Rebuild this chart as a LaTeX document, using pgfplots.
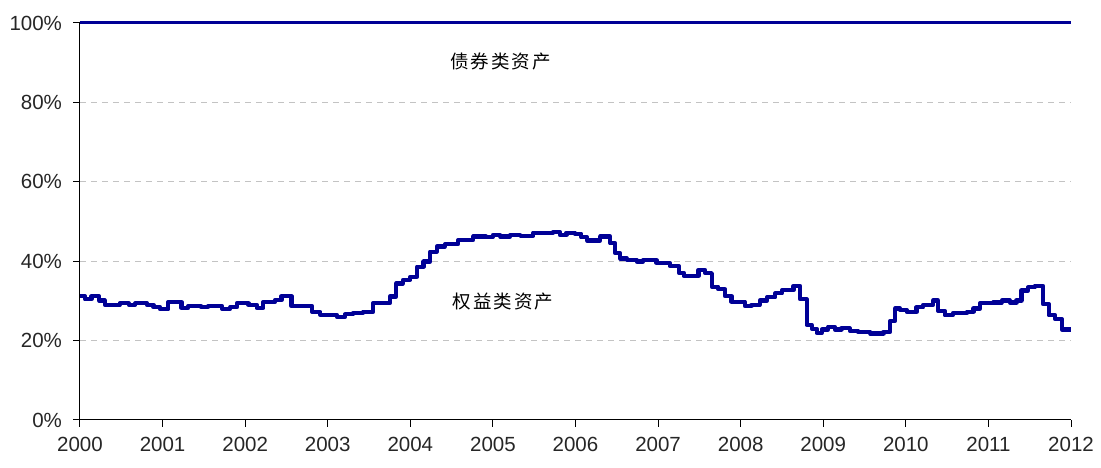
\documentclass[border=0pt]{standalone}
\usepackage{fontspec}
\setmainfont{Liberation Sans}
\newfontfamily\cjk{Noto Sans CJK SC}
\usepackage{pgfplots}
\pgfplotsset{compat=1.18}
\definecolor{navy}{RGB}{0,0,150}
\definecolor{gridgray}{RGB}{195,195,195}
\begin{document}
\fontsize{20.5}{24}\selectfont
\begin{tikzpicture}
\useasboundingbox (-80pt,-48pt) rectangle (1021pt,420pt);
\begin{axis}[
  at={(0pt,0pt)}, anchor=south west,
  scale only axis, width=991pt, height=397pt,
  xmin=2000, xmax=2012, ymin=0, ymax=100,
  axis x line=bottom, axis y line=left,
  axis line style={-, black, line width=1pt},
  xtick={2000,2001,...,2012}, ytick={0,20,...,100},
  /pgf/number format/assume math mode=true,
  x tick label style={/pgf/number format/1000 sep={}, yshift=-3pt},
  y tick label style={xshift=-4pt},
  yticklabel={\pgfmathprintnumber{\tick}\%},
  tick align=outside, major tick length=7pt,
  tick style={black, line width=1pt},
  ymajorgrids, grid style={gridgray, dash pattern=on 6pt off 5pt, line width=1pt},
  tick label style={font=\fontsize{20.5}{24}\selectfont, text=black!85},
  clip=false,
]
\addplot[navy, line width=3pt] coordinates {(2000,100) (2012,100)};
\addplot[navy, line width=4.2pt, const plot, line join=round] coordinates {
(2000.00,31.2) (2000.06,30.4) (2000.14,31.2) (2000.23,30.1) (2000.30,29.0)
(2000.48,29.4) (2000.59,29.0) (2000.67,29.4) (2000.81,29.0) (2000.89,28.4)
(2000.97,27.9) (2001.07,29.7) (2001.23,28.2) (2001.31,28.7) (2001.47,28.4)
(2001.55,28.7) (2001.72,28.0) (2001.82,28.4) (2001.90,29.4) (2002.04,29.0)
(2002.14,28.2) (2002.22,29.7) (2002.36,30.2) (2002.44,31.2) (2002.56,28.7)
(2002.81,27.2) (2002.91,26.5) (2003.11,26.0) (2003.21,26.6) (2003.31,27.0)
(2003.43,27.3) (2003.55,29.4) (2003.75,31.1) (2003.83,34.4) (2003.91,35.3)
(2004.00,36.1) (2004.08,38.6) (2004.16,39.9) (2004.24,42.4) (2004.32,43.7)
(2004.42,44.3) (2004.58,45.3) (2004.76,46.2) (2004.92,46.1) (2005.00,46.6)
(2005.09,46.2) (2005.21,46.6) (2005.33,46.4) (2005.49,47.2) (2005.73,47.4)
(2005.81,46.6) (2005.89,47.2) (2005.99,46.9) (2006.07,46.0) (2006.14,45.2)
(2006.30,46.2) (2006.42,44.5) (2006.48,42.0) (2006.54,40.7) (2006.62,40.3)
(2006.74,39.9) (2006.82,40.3) (2006.98,39.6) (2007.14,38.8) (2007.25,37.1)
(2007.31,36.3) (2007.49,37.8) (2007.57,37.0) (2007.65,33.6) (2007.73,32.9)
(2007.81,31.2) (2007.89,29.8) (2008.05,28.7) (2008.13,29.0) (2008.23,30.1)
(2008.32,30.9) (2008.42,31.9) (2008.50,32.7) (2008.64,33.8) (2008.72,30.4)
(2008.80,23.9) (2008.86,23.0) (2008.92,21.9) (2008.98,22.8) (2009.06,23.5)
(2009.14,22.8) (2009.22,23.1) (2009.32,22.5) (2009.42,22.2) (2009.57,21.8)
(2009.73,22.2) (2009.81,25.0) (2009.87,28.1) (2009.93,27.7) (2010.01,27.2)
(2010.13,28.4) (2010.21,29.0) (2010.33,30.1) (2010.39,27.5) (2010.47,26.4)
(2010.57,26.9) (2010.74,27.3) (2010.82,28.1) (2010.90,29.4) (2011.06,29.6)
(2011.16,30.1) (2011.26,29.6) (2011.34,30.1) (2011.40,32.6) (2011.48,33.4)
(2011.56,33.8) (2011.66,29.2) (2011.73,26.4) (2011.81,25.4) (2011.89,22.8)
(2012.00,22.8)
};
\node[font=\cjk\fontsize{18.5}{21}\selectfont, text=black] at (axis cs:2005.09,90.2) {债\hspace{2pt}券\hspace{2pt}类\hspace{2pt}资\hspace{2pt}产};
\node[font=\cjk\fontsize{18.5}{21}\selectfont, text=black] at (axis cs:2005.12,29.8) {权\hspace{2pt}益\hspace{2pt}类\hspace{2pt}资\hspace{2pt}产};
\end{axis}
\end{tikzpicture}
\end{document}
